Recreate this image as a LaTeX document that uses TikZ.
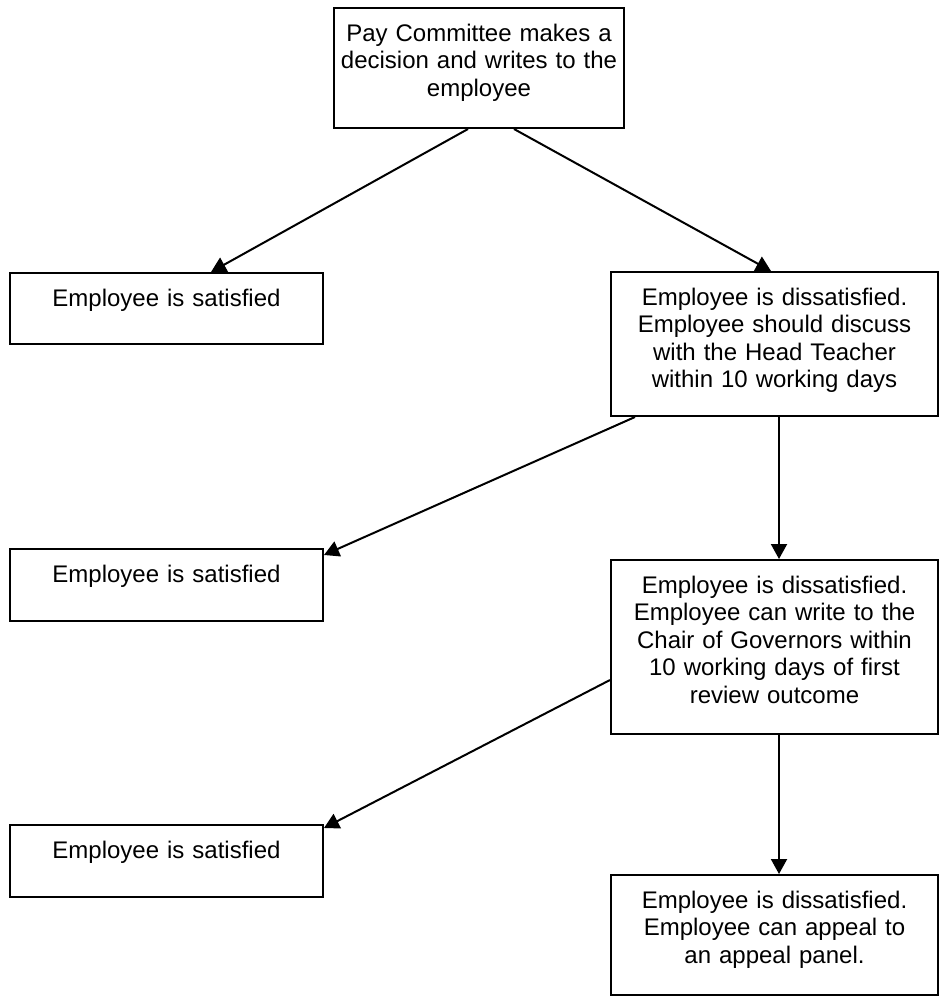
\documentclass[tikz,border=0pt]{standalone}
\usepackage{fontspec}
\setmainfont{Liberation Sans}
\usepackage{tikz}
\usetikzlibrary{arrows.meta}

\begin{document}
\begin{tikzpicture}[
x=0.5pt,
y=-0.5pt,
box/.style={
    draw,
    line width=1pt,
    anchor=north west,
    inner sep=0pt,
    align=center,
    text height=16.5pt,
    font=\fontsize{12pt}{13.8pt}\selectfont
},
arrow/.style={
    -{Triangle[length=7.5pt,width=8pt]},
    line width=1pt
}
]

\useasboundingbox (0,0) rectangle (939,996);

\node[box, text width=145pt, text depth=43.5pt] (pay) at (333,7)
{Pay Committee makes a\\decision and writes to the\\employee};

\node[box, text width=156.5pt, text depth=19pt] (sat1) at (9,272)
{Employee is satisfied};

\node[box, text width=163.5pt, text depth=55.5pt] (dis1) at (610,271)
{Employee is dissatisfied.\\Employee should discuss\\with the Head Teacher\\within 10 working days};

\node[box, text width=156.5pt, text depth=19.5pt] (sat2) at (9,548)
{Employee is satisfied};

\node[box, text width=163.5pt, text depth=70.5pt] (dis2) at (610,559)
{Employee is dissatisfied.\\Employee can write to the\\Chair of Governors within\\10 working days of first\\review outcome};

\node[box, text width=156.5pt, text depth=19.5pt] (sat3) at (9,824)
{Employee is satisfied};

\node[box, text width=163.5pt, text depth=43.5pt] (dis3) at (610,874)
{Employee is dissatisfied.\\Employee can appeal to\\an appeal panel.};

\draw[arrow] ([xshift=-5.5pt]pay.south) -- ([xshift=22.25pt]sat1.north);
\draw[arrow] ([xshift=17.5pt]pay.south) -- ([xshift=-1.75pt]dis1.north);
\draw[arrow] ([xshift=12.5pt]dis1.south west) -- ([yshift=-3.5pt]sat2.north east);
\draw[arrow] ([xshift=2.25pt]dis1.south) -- ([xshift=2.25pt]dis2.north);
\draw[arrow] ([yshift=-60.5pt]dis2.north west) -- ([yshift=-2pt]sat3.north east);
\draw[arrow] ([xshift=2.25pt]dis2.south) -- ([xshift=2.25pt]dis3.north);

\end{tikzpicture}
\end{document}
